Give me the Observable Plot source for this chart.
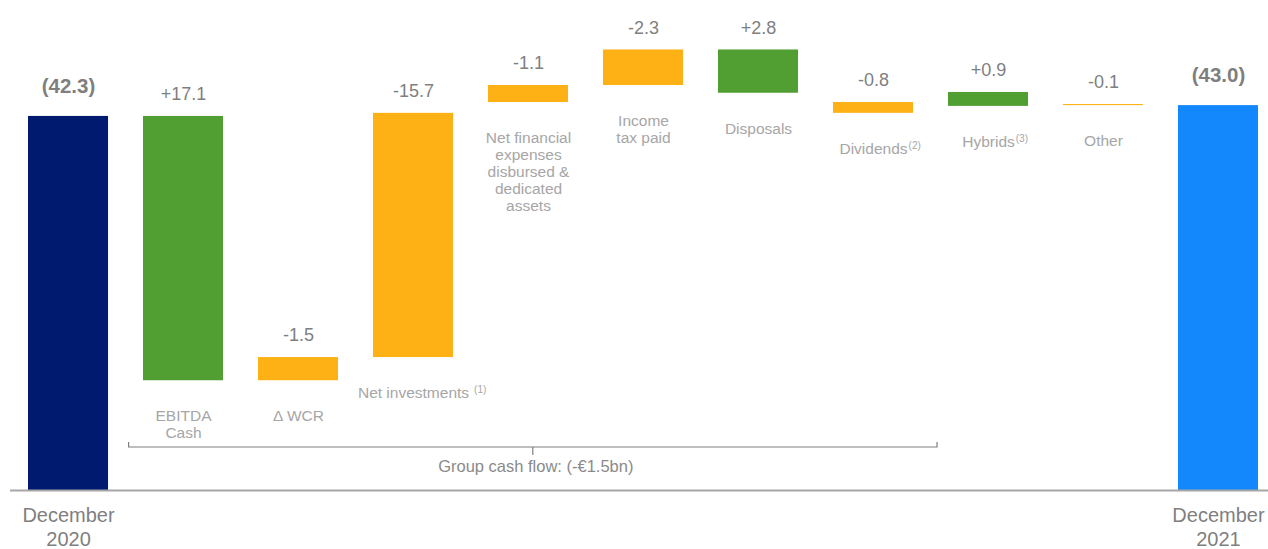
<!DOCTYPE html>
<html>
<head>
<meta charset="utf-8">
<script src="https://cdn.jsdelivr.net/npm/d3@7"></script>
<script src="https://cdn.jsdelivr.net/npm/@observablehq/plot@0.6"></script>
<style>
  html, body { margin: 0; padding: 0; background: #fff; }
  #chart { width: 1268px; height: 549px; }
</style>
</head>
<body>
<div id="chart"></div>
<script>
// ---- data (net debt bridge, €bn) ----
const categories = ["December 2020", "EBITDA Cash", "Δ WCR", "Net investments", "Net financial expenses",
  "Income tax paid", "Disposals", "Dividends", "Hybrids", "Other", "December 2021"];
const barLabels = ["", "EBITDA\nCash", "Δ WCR", "Net investments (1)",
  "Net financial\nexpenses\ndisbursed &\ndedicated\nassets", "Income\ntax paid", "Disposals",
  "Dividends(2)", "Hybrids(3)", "Other", ""];
const valueLabels = ["(42.3)", "+17.1", "-1.5", "-15.7", "-1.1", "-2.3", "+2.8", "-0.8", "+0.9", "-0.1", "(43.0)"];
// bar ends as drawn in the reference (null = from the bottom of the broken axis)
const barLow  = [null, 25.2, 25.2, 26.7, 43.2, 44.3, 43.8, 42.5, 42.95, 43.0, null];
const barHigh = [42.3, 42.3, 26.7, 42.5, 44.3, 46.6, 46.6, 43.2, 43.85, 43.07, 43.0];
const barKind = ["opening", "decrease", "increase", "increase", "increase", "increase",
  "decrease", "increase", "decrease", "increase", "closing"];
const kindNames  = ["opening", "decrease", "increase", "closing"];
const kindColors = ["#001a70", "#519e32", "#fdb114", "#1388fd"];
const totalTitles = {"December 2020": "December\n2020", "December 2021": "December\n2021"};
const bracketFrom = "EBITDA Cash";
const bracketTo = "Dividends";
const bracketLabel = "Group cash flow: (-€1.5bn)";
const yDomain = [18.1, 49.8];

// ---- table ----
const rows = categories.map((c, i) => ({
  key: c,
  low: barLow[i] == null ? yDomain[0] : barLow[i],
  high: barHigh[i],
  kind: barKind[i],
  value: valueLabels[i],
  label: barLabels[i],
  total: barKind[i] === "opening" || barKind[i] === "closing",
  title: totalTitles[c] || ""
}));
const flows = rows.filter(d => !d.total);
const totals = rows.filter(d => d.total);

// bracket under the group cash-flow items
function bracket(index, scales, values, dimensions) {
  const x = scales.x;
  const bw = typeof x.bandwidth === "function" ? x.bandwidth() : 0;
  const x0 = x(bracketFrom) - 0.18 * bw;
  const x1 = x(bracketTo) + bw + 0.3 * bw;
  const xm = (x0 + x1) / 2;
  const bottom = dimensions.height - dimensions.marginBottom;
  const yl = bottom - 43;
  const g = d3.create("svg:g");
  g.append("path")
    .attr("d", `M${x0},${yl - 5}V${yl}H${x1}V${yl - 5}M${xm},${yl}V${yl + 8}`)
    .attr("fill", "none").attr("stroke", "#7f7f7f").attr("stroke-width", 1.2);
  g.append("text")
    .attr("x", xm + 3).attr("y", yl + 20).attr("dy", "0.32em")
    .attr("text-anchor", "middle")
    .attr("font-size", 16.5).attr("fill", "#8a8a8a")
    .text(bracketLabel);
  return g.node();
}

const plot = Plot.plot({
  width: 1268,
  height: 549,
  marginTop: 0,
  marginBottom: 59,
  marginLeft: 10,
  marginRight: 0,
  style: { fontFamily: "'Liberation Sans', Arial, sans-serif", background: "#fff" },
  x: { type: "band", domain: categories, paddingInner: 0.304, paddingOuter: 0.1217, align: 0.643, round: false, axis: null },
  y: { domain: yDomain, axis: null },
  color: { domain: kindNames, range: kindColors },
  marks: [
    Plot.barY(rows, { x: "key", y1: "low", y2: "high", fill: "kind" }),
    Plot.ruleY([yDomain[0]], { stroke: "#a6a6a6", strokeWidth: 2 }),
    Plot.text(flows, { x: "key", y: "high", text: "value", dy: -22, fontSize: 18, fill: "#7f7f7f" }),
    Plot.text(totals, { x: "key", y: "high", text: "value", dy: -30, fontSize: 20.5, fontWeight: "bold", fill: "#7f7f7f" }),
    Plot.text(flows, { x: "key", y: "low", text: "label", lineAnchor: "top", dy: 28.5, fontSize: 15.5, lineHeight: 1.1, fill: "#a6a6a6" }),
    Plot.text(totals, { x: "key", y: "low", text: "title", lineAnchor: "top", dy: 14, fontSize: 20, lineHeight: 1.2, fill: "#7f7f7f" }),
    bracket
  ]
});

document.getElementById("chart").append(plot);

// superscript note markers such as "(1)"
d3.select(plot).selectAll("text").each(function () {
  if (this.childElementCount) return;
  const t = this.textContent;
  const m = t.match(/^(.*?)(\s*)\((\d)\)$/);
  if (!m) return;
  this.textContent = m[1];
  const L = this.getComputedTextLength();
  d3.select(this).append("tspan")
    .attr("x", L / 2 + (m[2] ? 5 : 1))
    .attr("text-anchor", "start")
    .attr("font-size", "0.65em")
    .attr("dy", "-0.5em")
    .text(`(${m[3]})`);
});
</script>
</body>
</html>
